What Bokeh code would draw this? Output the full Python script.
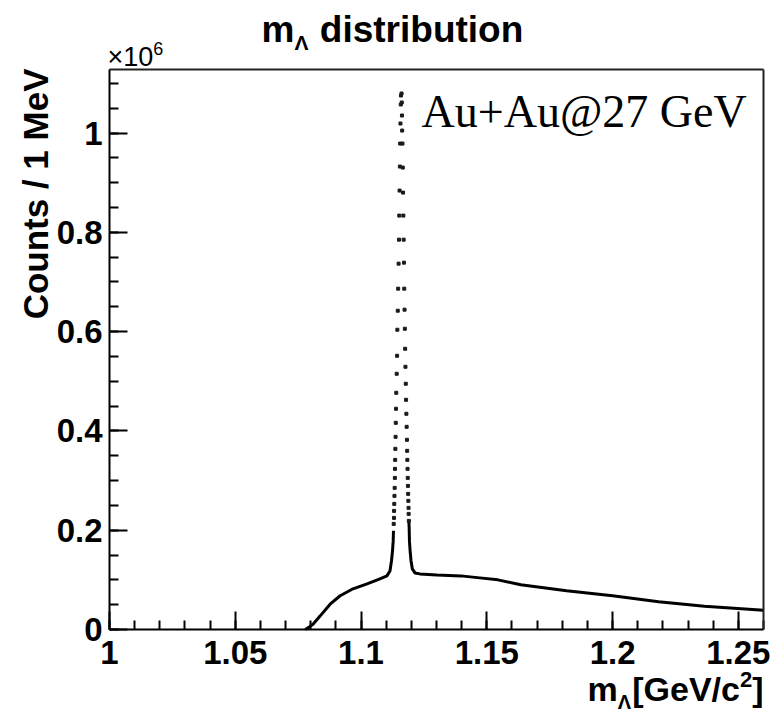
import math
from bokeh.plotting import figure
from bokeh.models import Range1d, FixedTicker, CustomJSTickFormatter, Label, LinearAxis
from bokeh.embed import file_html
from bokeh.resources import INLINE

# ---------------- data (mass in GeV/c^2, counts in units of 10^6 per 1 MeV) -------------
rise_mass = [1.0778, 1.0794, 1.0810, 1.0837, 1.0877, 1.0917, 1.0968, 1.1024, 1.1075,
             1.1103, 1.1115, 1.1121, 1.1125, 1.11278, 1.1129]
rise_counts = [0.000, 0.005, 0.011, 0.027, 0.051, 0.068, 0.082, 0.092, 0.102,
               0.108, 0.118, 0.138, 0.158, 0.178, 0.199]

peak_mass = [1.11298, 1.11310, 1.11314, 1.11321, 1.11329, 1.11337, 1.11345, 1.11349,
             1.11357, 1.11365, 1.11373, 1.11381, 1.11389, 1.11401, 1.11417, 1.11433,
             1.11444, 1.11460, 1.11476, 1.11492, 1.11508, 1.11520, 1.11532, 1.11544,
             1.11556, 1.11567, 1.11579, 1.11587,
             1.11611, 1.11619, 1.11627, 1.11635, 1.11647, 1.11659, 1.11671, 1.11683,
             1.11694, 1.11706, 1.11718, 1.11730, 1.11742, 1.11754, 1.11766, 1.11778,
             1.11790, 1.11802, 1.11813, 1.11825, 1.11833, 1.11841, 1.11849, 1.11857,
             1.11865, 1.11873, 1.11881, 1.11889, 1.11893, 1.11901]
peak_counts = [0.2127, 0.2248, 0.2389, 0.2530, 0.2692, 0.2853, 0.3054, 0.3236,
               0.3417, 0.3639, 0.3881, 0.4163, 0.4446, 0.4768, 0.5151, 0.5514,
               0.6038, 0.6421, 0.6865, 0.7369, 0.7853, 0.8337, 0.8841, 0.9325,
               0.9788, 1.0192, 1.0575, 1.0756,
               1.0796, 1.0615, 1.0353, 1.0050, 0.9788, 0.9304, 0.8800, 0.8337,
               0.7853, 0.7389, 0.6865, 0.6442, 0.6058, 0.5655, 0.5292, 0.4950,
               0.4627, 0.4345, 0.4083, 0.3821, 0.3599, 0.3417, 0.3236, 0.3054,
               0.2893, 0.2732, 0.2591, 0.2450, 0.2329, 0.2188]

tail_mass = [1.11901, 1.11913, 1.11925, 1.11952, 1.11988, 1.1204, 1.12143, 1.1234,
             1.1302, 1.1397, 1.1472, 1.1544, 1.1635, 1.1817, 1.2000, 1.2183, 1.2365, 1.2600]
tail_counts = [0.2188, 0.205, 0.178, 0.158, 0.138, 0.122, 0.114, 0.112,
               0.110, 0.108, 0.104, 0.100, 0.090, 0.078, 0.068, 0.056, 0.047, 0.039]

x_lo, x_hi = 1.0, 1.26
y_lo, y_hi = 0.0, 1.128
x_major = [1.0, 1.05, 1.1, 1.15, 1.2, 1.25]
y_major = [0.0, 0.2, 0.4, 0.6, 0.8, 1.0]

# ---------------- layout: the plotting frame covers the canvas, the ROOT box sits inside ----
W, H = 773, 713
BL, BT, BW, BH = 109, 69, 654, 560     # box left / top / width / height in page pixels
sx = BW / (x_hi - x_lo)
sy = BH / (y_hi - y_lo)
xr = Range1d(x_lo - BL / sx, x_hi + (W - BL - BW) / sx)
yr = Range1d(y_lo - (H - BT - BH) / sy, y_hi + BT / sy)

p = figure(width=W, height=H, output_backend="svg", toolbar_location=None,
           x_range=xr, y_range=yr, min_border=0, outline_line_color=None)
p.xgrid.visible = False
p.ygrid.visible = False
p.background_fill_color = "white"
p.border_fill_color = "white"

x_minor = [round(1.0 + 0.01 * i, 2) for i in range(0, 27)]
y_minor = [round(0.05 * i, 2) for i in range(0, 23)]
fmt = "return (Math.round(tick*1000)/1000).toString();"


def style_axis(ax):
    ax.axis_line_width = 2
    ax.axis_line_color = "black"
    ax.major_tick_in = 18
    ax.major_tick_out = 0
    ax.minor_tick_in = 9
    ax.minor_tick_out = 0
    ax.major_tick_line_width = 2
    ax.minor_tick_line_width = 2
    ax.major_tick_line_color = "black"
    ax.minor_tick_line_color = "black"
    ax.major_label_text_font = "Liberation Sans"
    ax.major_label_text_font_style = "bold"
    ax.major_label_text_font_size = "33px"
    ax.major_label_text_color = "black"


xa = p.xaxis[0]
xa.ticker = FixedTicker(ticks=x_major, minor_ticks=x_minor)
xa.formatter = CustomJSTickFormatter(code=fmt)
xa.fixed_location = y_lo
xa.bounds = (x_lo, x_hi)
style_axis(xa)
xa.major_label_standoff = 11

ya = p.yaxis[0]
ya.ticker = FixedTicker(ticks=y_major, minor_ticks=y_minor)
ya.formatter = CustomJSTickFormatter(code=fmt)
ya.fixed_location = x_lo
ya.bounds = (y_lo, y_hi)
style_axis(ya)
ya.major_label_standoff = 7

# top and right edges of the box (axes without ticks)
top = LinearAxis(fixed_location=y_hi, bounds=(x_lo, x_hi), ticker=FixedTicker(ticks=[]),
                 axis_line_width=2, axis_line_color="#222222")
right = LinearAxis(fixed_location=x_hi, bounds=(y_lo, y_hi), ticker=FixedTicker(ticks=[]),
                   axis_line_width=2, axis_line_color="#222222")
p.add_layout(top, "above")
p.add_layout(right, "right")

# ---------------- data marks -------------
p.line(rise_mass, rise_counts, line_color="black", line_width=3)
p.line(tail_mass, tail_counts, line_color="black", line_width=3)
p.scatter(peak_mass, peak_counts, marker="square", size=3, color="#1a1a1a")

# ---------------- texts -------------
WID = {"m": 889, "Λ": 722, " ": 278, "d": 611, "i": 278, "s": 556, "t": 333, "r": 389,
       "b": 611, "u": 611, "o": 611, "n": 611, "[": 333, "G": 778, "e": 556, "V": 667,
       "/": 278, "c": 556, "2": 556, "]": 333, "×": 584, "1": 556, "0": 556, "6": 556}
NORMAL_WID = {"×": 584, "1": 556, "0": 556, "6": 556}
SHIFT = 0.35   # measured offset of the rendered baseline below the anchor (in em)


def tw(s, size, style="bold"):
    tab = WID if style == "bold" else NORMAL_WID
    return sum(tab.get(ch, 556) for ch in s) * size / 1000.0


def add_text(text, px, py, size, style="bold", font="Liberation Sans", align="left",
             angle=0.0):
    # (px, py): wanted baseline point in page pixels
    ax_ = px - SHIFT * size * math.sin(angle)
    ay_ = py - SHIFT * size * math.cos(angle)
    p.add_layout(Label(x=ax_, y=H - ay_, x_units="screen", y_units="screen",
                       text=text, text_font=font, text_font_size=f"{size}px",
                       text_font_style=style, text_color="black", angle=angle,
                       text_align=align, text_baseline="alphabetic"))


def pieces(parts, x0, base, align="left"):
    total = sum(tw(t, sz, st) for t, sz, dy, st in parts)
    x = x0 if align == "left" else x0 - total
    for t, sz, dy, st in parts:
        if t.strip():
            add_text(t, x, base + dy, sz, style=st)
        x += tw(t, sz, st)


# title
pieces([("m", 37, 0, "bold"), ("Λ", 21, 7, "bold"), (" ", 37, 0, "bold"),
        ("distribution", 37, 0, "bold")], 261, 42)
# x10^6
pieces([("×10", 27, 0, "normal"), ("6", 18, -12, "normal")], 107, 66)
# x axis title
pieces([("m", 34, 0, "bold"), ("Λ", 20, 8, "bold"), ("[GeV/c", 34, 0, "bold"),
        ("2", 22, -13, "bold"), ("]", 34, 0, "bold")], 763, 700, align="right")
# y axis title (rotated, reading upwards, ending at the top of the axis)
add_text("Counts / 1 MeV", 47, 68, 35, align="right", angle=math.pi / 2)
# annotation inside the box
add_text("Au+Au@27 GeV", 421, 127, 46, style="normal", font="Liberation Serif")

open("out.html", "w").write(file_html(p, INLINE))
